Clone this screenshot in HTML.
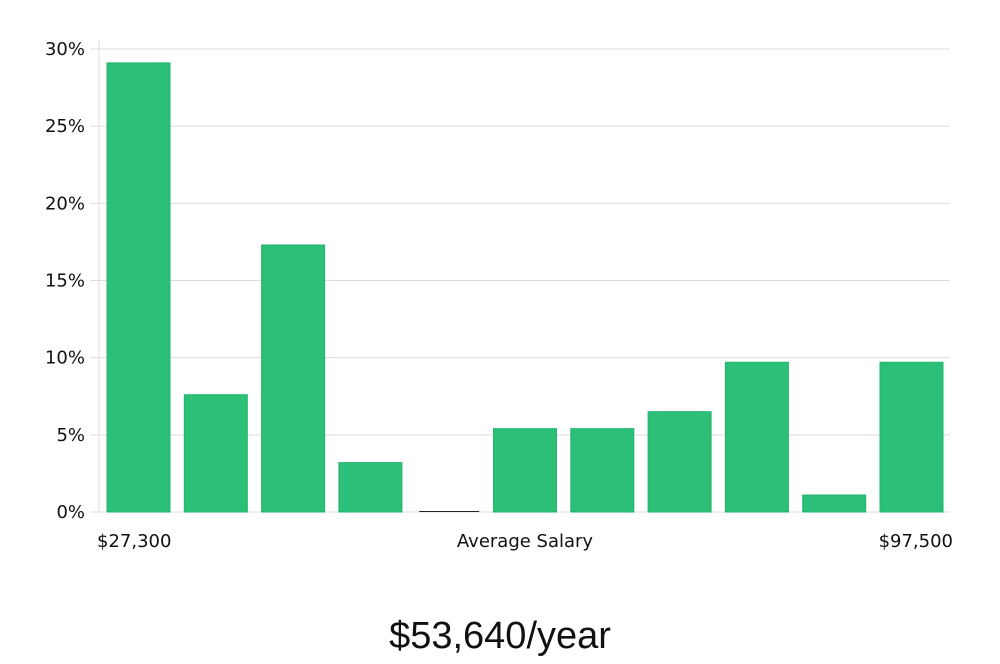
<!DOCTYPE html>
<html><head><meta charset="utf-8"><style>
body{margin:0;background:#fff;width:1000px;height:660px;overflow:hidden;font-family:"DejaVu Sans","Liberation Sans",sans-serif}
</style></head><body>
<svg id="chart" width="1000" height="660" xmlns="http://www.w3.org/2000/svg">
<g id="grid"></g><g id="bars"></g><g id="labels"></g>
<text x="97" y="547" font-size="18" fill="#111">$27,300</text>
<text x="525" y="547" font-size="18" fill="#111" text-anchor="middle">Average Salary</text>
<text x="953" y="547" font-size="18" fill="#111" text-anchor="end">$97,500</text>
<text x="500" y="648" font-size="38" fill="#111" text-anchor="middle" font-family="Liberation Sans, sans-serif" font-weight="300">$53,640/year</text>
</svg>
<script>
const values=[29.1,7.6,17.3,3.2,0,5.4,5.4,6.5,9.7,1.1,9.7];
const ticks=[0,5,10,15,20,25,30];
const tickLabels=["0%","5%","10%","15%","20%","25%","30%"];
const NS="http://www.w3.org/2000/svg";
const y0=512,y1=49,left=99,right=950;
const y=v=>y0-(v/30)*(y0-y1);
const step=77.3,bw=63,bx0=107;
const x=i=>bx0+i*step;
function mk(t,a,p){const e=document.createElementNS(NS,t);for(const k in a)e.setAttribute(k,a[k]);p.appendChild(e);return e;}
const g=document.getElementById('grid'),b=document.getElementById('bars'),l=document.getElementById('labels');
const ax=mk('line',{x1:left,x2:left,y1:40,y2:y0,stroke:'#ddd','stroke-width':1},g);


ticks.forEach((t,i)=>{
 const ln=mk('line',{x1:90,x2:right,y1:y(t),y2:y(t),stroke:'#ddd','stroke-width':1},g);
 
 
 const tx=mk('text',{x:85,y:y(t)+6,'font-size':18,fill:'#111','text-anchor':'end'},l);
 tx.textContent=tickLabels[i];
 
 
});
values.forEach((v,i)=>{
 let r;
 if(v<=0){r=mk('rect',{x:x(i)+3,y:y0-1,width:bw-3,height:1,fill:'#222'},b);}
 else r=mk('rect',{x:x(i),y:y(v),width:bw,height:y0-y(v),fill:'#2bbf78',stroke:'#22b36c','stroke-width':1},b);
 
 
});
</script>
</body></html>
